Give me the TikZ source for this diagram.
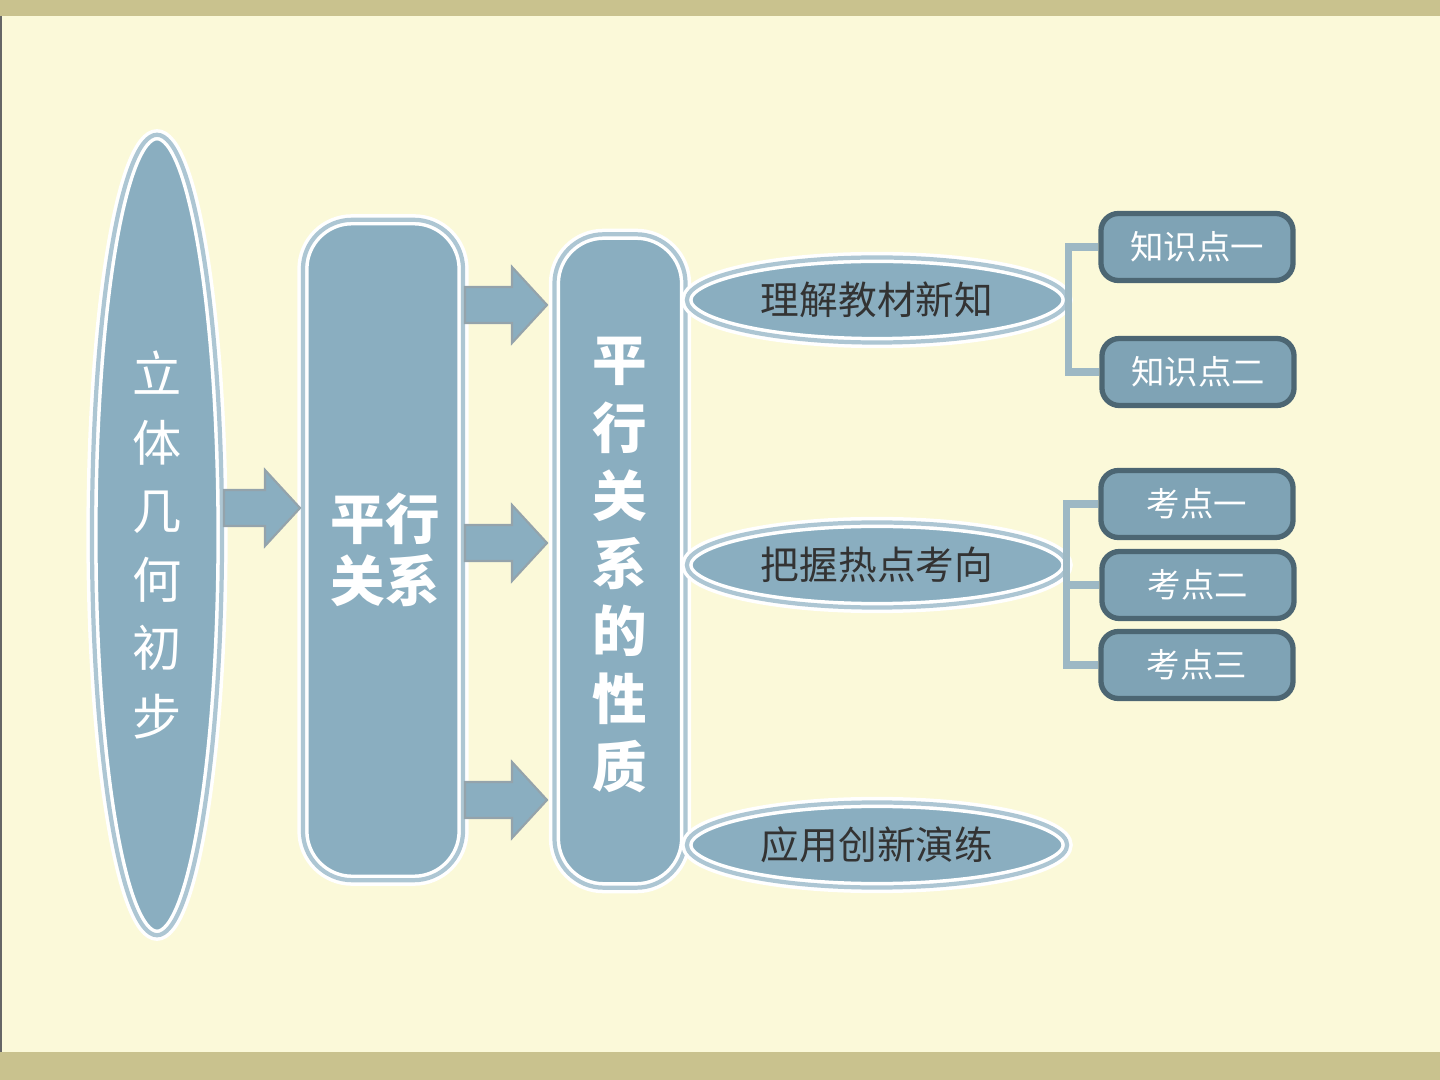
\documentclass[tikz,border=0pt]{standalone}
\usepackage{fontspec}
\setmainfont{Noto Sans CJK SC}
\usetikzlibrary{shapes.geometric}
\definecolor{bgy}{HTML}{FBF9D9}
\definecolor{band}{HTML}{C9C28E}
\definecolor{shp}{HTML}{8AAEC0}
\definecolor{box}{HTML}{7FA3B5}
\definecolor{boxb}{HTML}{4C6673}
\definecolor{brk}{HTML}{9DB8C4}
\tikzset{
 big/.style={fill=shp,draw=white,double=shp!70!white,double distance=1.2pt,line width=1pt},
 oval/.style={ellipse,big,minimum width=3.8cm,minimum height=0.85cm,inner sep=0pt,font=\fontsize{11}{13}\selectfont,text=black!80},
 small/.style={rectangle,rounded corners=5pt,fill=box,draw=boxb,line width=1.5pt,minimum width=1.92cm,minimum height=0.67cm,inner sep=0pt,font=\fontsize{9.5}{11}\selectfont,text=white},
 arrsh/.style={fill=shp,draw=boxb!60,line width=0.6pt},
 brack/.style={draw=brk,line width=2pt}
}
\newcommand{\myarrow}[3]{\filldraw[arrsh] (#1,#2-18) -- (#3-35,#2-18) -- (#3-35,#2-38) -- (#3,#2) -- (#3-35,#2+38) -- (#3-35,#2+18) -- (#1,#2+18) -- cycle;}
\begin{document}
\begin{tikzpicture}[x=0.01cm,y=-0.01cm]
\useasboundingbox (0,0) rectangle (1440,1080);
\fill[bgy] (0,0) rectangle (1440,1080);
\fill[band] (0,0) rectangle (1440,16);
\fill[band] (0,1052) rectangle (1440,1080);
\draw[black!60] (1,16) -- (1,1052);
\node[ellipse,big,minimum width=1.3cm,minimum height=8cm,inner sep=0pt] (e0) at (157,535) {};
\node[align=center,text=white,font=\fontsize{14}{19.5}\selectfont] (t0) at (157,545) {立\\体\\几\\何\\初\\步};
\node[rectangle,rounded corners=14pt,big,minimum width=1.6cm,minimum height=6.6cm] (r1) at (383,550) {};
\node[text=white,font=\fontsize{15.5}{17.5}\selectfont\bfseries,align=center] (t1) at (385,550) {平行\\关系};
\node[rectangle,rounded corners=14pt,big,minimum width=1.31cm,minimum height=6.53cm] (r2) at (620,561) {};
\node[text=white,font=\fontsize{15.5}{19.3}\selectfont\bfseries,align=center] (t2) at (620,565) {平\\行\\关\\系\\的\\性\\质};
\myarrow{224}{508}{300}
\myarrow{465}{305}{547}
\myarrow{465}{543}{547}
\myarrow{465}{800}{547}
\node[oval] (o1) at (877,300) {理解教材新知};
\node[oval] (o2) at (877,565) {把握热点考向};
\node[oval] (o3) at (877,845) {应用创新演练};
\node[small] (k1) at (1197,247) {知识点一};
\node[small] (k2) at (1198,372) {知识点二};
\node[small] (k3) at (1197,504) {考点一};
\node[small] (k4) at (1198,585) {考点二};
\node[small] (k5) at (1197,665) {考点三};
\draw[brack] (k1.west) -- ++(-30,0) |- (k2.west);
\draw[brack] (k3.west) -- ++(-32,0) |- (k5.west);
\draw[brack] (k4.west) -- ++(-32,0);
\end{tikzpicture}
\end{document}
